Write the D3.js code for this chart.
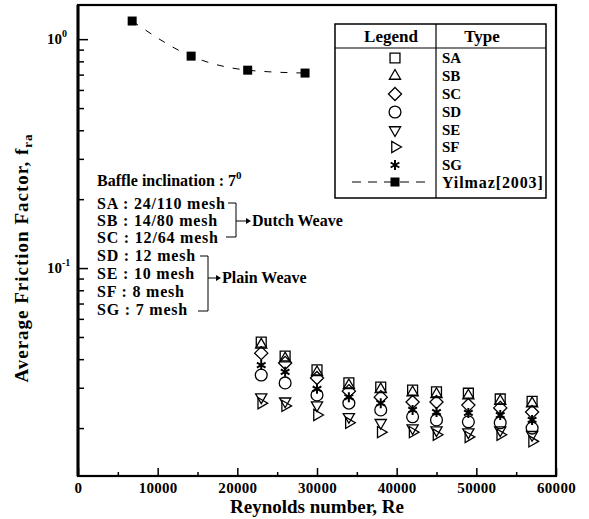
<!DOCTYPE html>
<html>
<head>
<meta charset="utf-8">
<script src="https://cdn.jsdelivr.net/npm/d3@7"></script>
<style>
  body { margin: 0; background: #fff; }
  svg text { font-family: "Liberation Serif", "Times New Roman", serif; font-weight: bold; fill: #000; }
</style>
</head>
<body>
<script>
// Reynolds numbers of the measured points (same for all screen types)
const reynolds = [23000, 26000, 30000, 34000, 38000, 42000, 45000, 49000, 53000, 57000];

const SA = [0.0475, 0.0413, 0.0359, 0.0315, 0.0302, 0.0293, 0.0288, 0.0284, 0.0268, 0.0262];
const SB = [0.0462, 0.0402, 0.0350, 0.0307, 0.0295, 0.0286, 0.0281, 0.0277, 0.0262, 0.0256];
const SC = [0.0425, 0.0385, 0.0331, 0.0290, 0.0273, 0.0260, 0.0260, 0.0252, 0.0245, 0.0235];
const SD = [0.0341, 0.0315, 0.0279, 0.0257, 0.0240, 0.0224, 0.0217, 0.0213, 0.0211, 0.0200];
const SE = [0.0273, 0.0262, 0.0252, 0.0224, 0.0211, 0.0200, 0.0196, 0.0192, 0.0196, 0.0187];
const SF = [0.0257, 0.0250, 0.0228, 0.0211, 0.0192, 0.0192, 0.0187, 0.0183, 0.0187, 0.0175];
const SG = [0.0377, 0.0352, 0.0297, 0.0273, 0.0257, 0.0240, 0.0235, 0.0233, 0.0228, 0.0217];

// Yilmaz [2003] reference curve
const yilmazRe = [6800, 14200, 21300, 28500];
const yilmazF = [1.20, 0.843, 0.732, 0.711];

const seriesNames = ["SA", "SB", "SC", "SD", "SE", "SF", "SG"];
const xTicks = [0, 10000, 20000, 30000, 40000, 50000, 60000];

const W = 589, H = 519;
const margin = { left: 78, top: 5, right: 33, bottom: 43 };

const x = d3.scaleLinear().domain([0, 60000]).range([margin.left, W - margin.right]);
const y = d3.scaleLog().domain([0.01235, 1.41]).range([H - margin.bottom, margin.top]);

const svg = d3.select("body").append("svg").attr("width", W).attr("height", H);

// marker shapes
const shapes = {
  SA: { type: d3.symbolSquare2, size: 125, rot: 0 },
  SB: { type: d3.symbolTriangle2, size: 90, rot: 0 },
  SC: { type: d3.symbolDiamond2, size: 110, rot: 0 },
  SD: { type: d3.symbolCircle, size: 110, rot: 0 },
  SE: { type: d3.symbolTriangle2, size: 90, rot: 180 },
  SF: { type: d3.symbolTriangle2, size: 90, rot: 90 },
  SG: { type: d3.symbolAsterisk, size: 70, rot: 0 }
};
const seriesValues = { SA, SB, SC, SD, SE, SF, SG };

function drawMarker(g, name, cx, cy) {
  const s = shapes[name];
  g.append("path")
    .attr("d", d3.symbol().type(s.type).size(s.size)())
    .attr("transform", "translate(" + cx + "," + cy + ")rotate(" + s.rot + ")")
    .attr("fill", "none")
    .attr("stroke", "#000")
    .attr("stroke-width", name == "SG" ? 2 : 1.3);
}

// ---- axes ----
const xAxis = svg.append("g")
  .attr("transform", "translate(0," + (H - margin.bottom) + ")")
  .call(d3.axisBottom(x).tickValues(xTicks).tickSize(-8).tickPadding(6).tickFormat(d3.format("d")));
xAxis.selectAll("text").style("font-size", "15px").style("letter-spacing", "0.3px");

svg.append("g")
  .attr("transform", "translate(0," + (H - margin.bottom) + ")")
  .call(d3.axisBottom(x).tickValues(d3.range(5000, 60000, 10000)).tickSize(-4).tickFormat(""));

const minorY = [0.02, 0.03, 0.04, 0.05, 0.06, 0.07, 0.08, 0.09, 0.2, 0.3, 0.4, 0.5, 0.6, 0.7, 0.8, 0.9];
svg.append("g")
  .attr("transform", "translate(" + margin.left + ",0)")
  .call(d3.axisLeft(y).tickValues(minorY).tickSize(-6).tickFormat(""));
svg.append("g")
  .attr("transform", "translate(" + margin.left + ",0)")
  .call(d3.axisLeft(y).tickValues([1, 0.1]).tickSize(-10).tickFormat(""));

svg.selectAll(".domain").remove();
svg.selectAll(".tick line").attr("stroke", "#000").attr("stroke-width", 1.5);

// frame
svg.append("rect")
  .attr("x", margin.left).attr("y", margin.top)
  .attr("width", W - margin.left - margin.right)
  .attr("height", H - margin.top - margin.bottom)
  .attr("fill", "none").attr("stroke", "#000").attr("stroke-width", 2.2);
svg.append("line")
  .attr("x1", margin.left).attr("x2", margin.left)
  .attr("y1", margin.top).attr("y2", H - margin.bottom)
  .attr("stroke", "#000").attr("stroke-width", 3);

// y tick labels 10^0, 10^-1
[[1, "0"], [0.1, "-1"]].forEach(function(d) {
  const t = svg.append("text")
    .attr("x", margin.left - 31)
    .attr("y", y(d[0]) + 5)
    .style("font-size", "15px");
  t.append("tspan").text("10");
  t.append("tspan").attr("dy", -7).style("font-size", "10px").text(d[1]);
});

// axis titles
svg.append("text")
  .attr("x", (x(0) + x(60000)) / 2)
  .attr("y", 513)
  .attr("text-anchor", "middle")
  .style("font-size", "19px")
  .text("Reynolds number, Re");

const yt = svg.append("text")
  .attr("transform", "translate(28,258)rotate(-90)")
  .attr("text-anchor", "middle")
  .style("font-size", "19px")
  .style("letter-spacing", "1px");
yt.append("tspan").text("Average Friction Factor, f");
yt.append("tspan").attr("dy", 4).style("font-size", "13px").text("ra");

// ---- Yilmaz curve ----
const yilmaz = yilmazRe.map(function(r, i) { return [r, yilmazF[i]]; });
svg.append("path")
  .datum(yilmaz)
  .attr("d", d3.line().x(d => x(d[0])).y(d => y(d[1])).curve(d3.curveMonotoneX))
  .attr("fill", "none").attr("stroke", "#000").attr("stroke-width", 1)
  .attr("stroke-dasharray", "7,9");
svg.selectAll(".yil")
  .data(yilmaz)
  .enter().append("rect")
  .attr("x", d => x(d[0]) - 4.5).attr("y", d => y(d[1]) - 4.5)
  .attr("width", 9).attr("height", 9).attr("fill", "#000");

// ---- data markers ----
const marks = svg.append("g");
seriesNames.forEach(function(name) {
  seriesValues[name].forEach(function(v, i) {
    drawMarker(marks, name, x(reynolds[i]), y(v));
  });
});

// ---- legend table ----
const lg = svg.append("g");
lg.append("rect").attr("x", 335).attr("y", 24).attr("width", 211).attr("height", 174)
  .attr("fill", "#fff").attr("stroke", "#000").attr("stroke-width", 1.5);
lg.append("line").attr("x1", 335).attr("x2", 546).attr("y1", 48).attr("y2", 48)
  .attr("stroke", "#000").attr("stroke-width", 1.2);
lg.append("line").attr("x1", 436).attr("x2", 436).attr("y1", 24).attr("y2", 198)
  .attr("stroke", "#000").attr("stroke-width", 1.2);
lg.append("text").attr("x", 391).attr("y", 42).attr("text-anchor", "middle").style("font-size", "17px").text("Legend");
lg.append("text").attr("x", 482).attr("y", 42).attr("text-anchor", "middle").style("font-size", "17px").text("Type");

const rowY = [58, 76, 94, 112, 130, 147, 165];
seriesNames.forEach(function(name, i) {
  drawMarker(lg, name, 395, rowY[i]);
  lg.append("text").attr("x", 442).attr("y", rowY[i] + 5).style("font-size", "15px").text(name);
});
lg.append("line").attr("x1", 352).attr("x2", 432).attr("y1", 182).attr("y2", 182)
  .attr("stroke", "#000").attr("stroke-width", 1).attr("stroke-dasharray", "9,7");
lg.append("rect").attr("x", 390.5).attr("y", 177.5).attr("width", 9).attr("height", 9).attr("fill", "#000");
lg.append("text").attr("x", 442).attr("y", 188).style("font-size", "16px")
  .style("letter-spacing", "0.9px").text("Yilmaz[2003]");

// ---- annotation ----
const ann = svg.append("g");
const bt = ann.append("text").attr("x", 97).attr("y", 186).style("font-size", "16px");
bt.append("tspan").text("Baffle inclination : 7");
bt.append("tspan").attr("dy", -7).style("font-size", "11px").text("0");

const meshLines = ["SA : 24/110 mesh", "SB : 14/80 mesh", "SC : 12/64 mesh",
  "SD : 12 mesh", "SE : 10 mesh", "SF : 8 mesh", "SG : 7 mesh"];
const meshY = [209, 226, 243, 261, 279, 297, 315];
meshLines.forEach(function(t, i) {
  ann.append("text").attr("x", 97).attr("y", meshY[i]).style("font-size", "16px")
    .style("letter-spacing", "0.8px").text(t);
});

// brackets
function bracket(pts) {
  ann.append("path").attr("d", d3.line()(pts))
    .attr("fill", "none").attr("stroke", "#000").attr("stroke-width", 1);
}
bracket([[228, 203], [236, 203], [236, 237], [226, 237]]);
bracket([[236, 221], [246, 221]]);
ann.append("path").attr("d", "M246,218 L251,221 L246,224 Z").attr("fill", "#000");
ann.append("text").attr("x", 252).attr("y", 226).style("font-size", "16px").text("Dutch Weave");

bracket([[200, 256], [208, 256], [208, 311], [198, 311]]);
bracket([[208, 278], [216, 278]]);
ann.append("path").attr("d", "M216,275 L221,278 L216,281 Z").attr("fill", "#000");
ann.append("text").attr("x", 222).attr("y", 283).style("font-size", "16px").text("Plain Weave");
</script>
</body>
</html>
